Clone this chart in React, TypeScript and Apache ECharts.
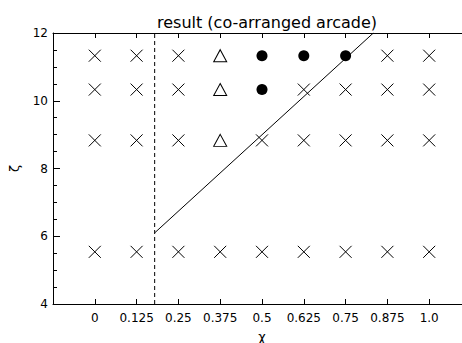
import React, { useEffect, useRef } from "react";
import * as echarts from "echarts";

const chiValues = [0, 0.125, 0.25, 0.375, 0.5, 0.625, 0.75, 0.875, 1.0];
const chiLabels = ["0", "0.125", "0.25", "0.375", "0.5", "0.625", "0.75", "0.875", "1.0"];
const zetaRows = [11.33, 10.33, 8.83, 5.54];
// x = cross, t = open triangle, c = filled circle
const markerRows = [
  ["x", "x", "x", "t", "c", "c", "c", "x", "x"],
  ["x", "x", "x", "t", "c", "x", "x", "x", "x"],
  ["x", "x", "x", "t", "x", "x", "x", "x", "x"],
  ["x", "x", "x", "x", "x", "x", "x", "x", "x"],
];
const boundaryChi = 0.179;
const boundaryLine = [
  [0.179, 6.1],
  [0.833, 12],
];
const titleText = "result (co-arranged arcade)";

function pointsOf(kind: string) {
  const pts: number[][] = [];
  markerRows.forEach((row, r) => {
    row.forEach((k, c) => {
      if (k === kind) pts.push([chiValues[c], zetaRows[r]]);
    });
  });
  return pts;
}

export default function App() {
  const ref = useRef<HTMLDivElement>(null);
  useEffect(() => {
    if (!ref.current) return;
    const chart = echarts.init(ref.current, null, { renderer: "svg" });
    const font = "DejaVu Sans";
    const labelFor = (v: number) => {
      for (let i = 0; i < chiValues.length; i++) {
        if (Math.abs(v - chiValues[i]) < 1e-6) return chiLabels[i];
      }
      return "";
    };
    chart.setOption({
      animation: false,
      backgroundColor: "#fff",
      title: {
        text: titleText,
        left: 262,
        textAlign: "center",
        top: 9,
        textStyle: { fontFamily: font, fontSize: 16, fontWeight: "normal", color: "#000" },
      },
      grid: { left: 53, top: 33, width: 418, height: 271, outerBoundsMode: "none", containLabel: false },
      xAxis: [
        {
          type: "value",
          min: -0.125,
          max: 1.125,
          interval: 0.125,
          name: "χ",
          nameLocation: "middle",
          nameGap: 23,
          nameTextStyle: { fontFamily: font, fontSize: 13, color: "#000", lineHeight: 15 },
          axisLine: { show: true, onZero: false, lineStyle: { color: "#000", width: 1 } },
          axisTick: { show: true, inside: true, length: 5, lineStyle: { color: "#000" } },
          axisLabel: {
            margin: 8,
            fontFamily: font,
            fontSize: 12,
            color: "#000",
            formatter: (v: number) => labelFor(v),
          },
          splitLine: { show: false },
        },
        {
          type: "value",
          position: "top",
          min: -0.125,
          max: 1.125,
          interval: 0.125,
          axisLine: { show: true, onZero: false, lineStyle: { color: "#000", width: 1 } },
          axisTick: { show: true, inside: true, length: 5, lineStyle: { color: "#000" } },
          axisLabel: { show: false },
          splitLine: { show: false },
        },
      ],
      yAxis: {
        type: "value",
        min: 4,
        max: 12,
        interval: 2,
        name: "ζ",
        nameLocation: "middle",
        nameRotate: 90,
        nameGap: 32,
        nameTextStyle: { fontFamily: font, fontSize: 13, color: "#000" },
        axisLine: { show: true, onZero: false, lineStyle: { color: "#000", width: 1 } },
        axisTick: { show: true, inside: true, length: 7, lineStyle: { color: "#000" } },
        minorTick: { show: true, splitNumber: 4, length: 4, lineStyle: { color: "#000" } },
        axisLabel: { margin: 5, fontFamily: font, fontSize: 12, color: "#000", showMinLabel: true, showMaxLabel: true },
        splitLine: { show: false },
      },
      series: [
        {
          type: "scatter",
          data: pointsOf("x"),
          symbol: "path://M0,0L12,12M12,0L0,12",
          symbolSize: 12,
          itemStyle: { color: "rgba(0,0,0,0)", borderColor: "#000", borderWidth: 1, opacity: 1 },
        },
        {
          type: "scatter",
          data: pointsOf("t"),
          symbol: "triangle",
          symbolSize: [13, 12],
          itemStyle: { color: "rgba(0,0,0,0)", borderColor: "#000", borderWidth: 1, opacity: 1 },
        },
        {
          type: "scatter",
          data: pointsOf("c"),
          symbol: "circle",
          symbolSize: 11,
          itemStyle: { color: "#000", opacity: 1 },
        },
        {
          type: "line",
          data: boundaryLine,
          symbol: "none",
          lineStyle: { color: "#000", width: 1 },
        },
        {
          type: "line",
          data: [
            [boundaryChi, 4],
            [boundaryChi, 12],
          ],
          symbol: "none",
          lineStyle: { color: "#000", width: 1, type: [4, 3] },
        },
      ],
    });
    return () => chart.dispose();
  }, []);
  return (
    <div
      ref={ref}
      style={{ position: "fixed", left: 0, top: 0, width: 462, height: 343 }}
    />
  );
}
